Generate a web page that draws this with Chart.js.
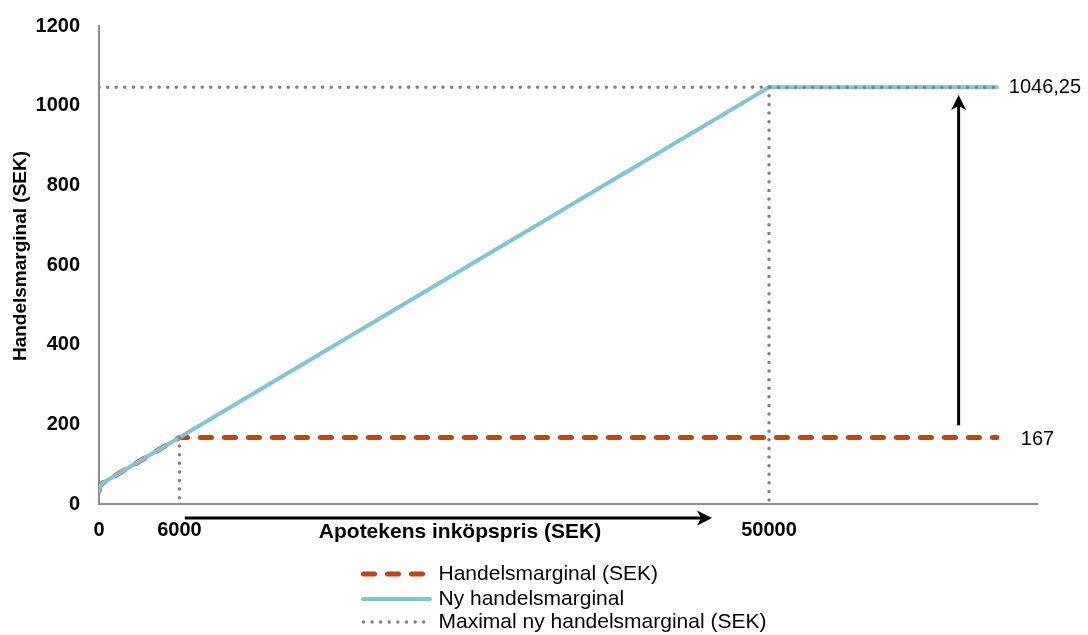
<!DOCTYPE html>
<html>
<head>
<meta charset="utf-8">
<script src="https://cdn.jsdelivr.net/npm/chart.js@4.4.1/dist/chart.umd.min.js"></script>
<style>
  html, body { margin: 0; padding: 0; background: #fff; }
  #chart { display: block; }
</style>
</head>
<body>
<canvas id="chart" width="1088" height="635"></canvas>
<script>
// Apotekens inköpspris (SEK) -> handelsmarginal (SEK)
var oldPrice = [0, 75, 300, 6000, 67000];
var oldMargin = [31.25, 46.25, 53, 167, 167];

var newPrice = [0, 75, 300, 6000, 50000, 67000];
var newMargin = [31.25, 46.25, 53, 167, 1046.25, 1046.25];

// dotted guide lines, null breaks the line
var maxPrice = [0, 67000, null, 50000, 50000, null, 6000, 6000];
var maxMargin = [1046.25, 1046.25, null, 1046.25, 0, null, 167, 0];

var xTicks = [0, 6000, 50000];
var seriesNames = ["Handelsmarginal (SEK)", "Ny handelsmarginal", "Maximal ny handelsmarginal (SEK)"];
var endLabels = ["1046,25", "167"];
var endValues = [1046.25, 167];

var FONT = "'Liberation Sans', Arial, sans-serif";
Chart.defaults.font.family = FONT;

function toPoints(xs, ys) {
  return xs.map(function(x, i) { return { x: x, y: ys[i] }; });
}

function drawArrow(ctx, x1, y1, x2, y2) {
  var ang = Math.atan2(y2 - y1, x2 - x1);
  var len = 15, half = 7.5, notch = 4;
  ctx.save();
  ctx.strokeStyle = '#000';
  ctx.fillStyle = '#000';
  ctx.lineWidth = 3;
  ctx.beginPath();
  ctx.moveTo(x1, y1);
  ctx.lineTo(x2 - Math.cos(ang) * (len - notch), y2 - Math.sin(ang) * (len - notch));
  ctx.stroke();
  ctx.translate(x2, y2);
  ctx.rotate(ang);
  ctx.beginPath();
  ctx.moveTo(0, 0);
  ctx.lineTo(-len, -half);
  ctx.lineTo(-len + notch, 0);
  ctx.lineTo(-len, half);
  ctx.closePath();
  ctx.fill();
  ctx.restore();
}

var overlay = {
  id: 'overlay',
  afterDraw: function(chart) {
    var ctx = chart.ctx;
    var xs = chart.scales.x, ys = chart.scales.y, area = chart.chartArea;
    var lineEnd = xs.getPixelForValue(67000);

    ctx.save();
    // y axis title
    ctx.fillStyle = '#000';
    ctx.font = 'bold 19px ' + FONT;
    ctx.textAlign = 'center';
    ctx.textBaseline = 'middle';
    ctx.translate(21, 256);
    ctx.rotate(-Math.PI / 2);
    ctx.fillText('Handelsmarginal (SEK)', 0, 0);
    ctx.restore();

    ctx.save();
    ctx.fillStyle = '#000';
    // x axis title, on the tick label row
    ctx.font = 'bold 21px ' + FONT;
    ctx.textAlign = 'center';
    ctx.textBaseline = 'middle';
    ctx.fillText('Apotekens inköpspris (SEK)', 460, area.bottom + 28);

    // values at the right end of the lines
    ctx.font = '20px ' + FONT;
    ctx.textAlign = 'left';
    ctx.fillText(endLabels[0], lineEnd + 12, ys.getPixelForValue(endValues[0]));
    ctx.fillText(endLabels[1], lineEnd + 24, ys.getPixelForValue(endValues[1]) + 2);
    ctx.restore();

    // arrows
    drawArrow(ctx, xs.getPixelForValue(6400), area.bottom + 14, xs.getPixelForValue(45750), area.bottom + 14);
    drawArrow(ctx, xs.getPixelForValue(64150), ys.getPixelForValue(198), xs.getPixelForValue(64150), ys.getPixelForValue(1027));

    // legend, one row per series, sample on the left
    var rows = [574, 599, 622];
    chart.data.datasets.forEach(function(ds, i) {
      var y = rows[i];
      ctx.save();
      ctx.strokeStyle = ds.borderColor;
      ctx.lineWidth = ds.borderWidth;
      ctx.lineCap = ds.borderCapStyle || 'butt';
      ctx.setLineDash(ds.borderDash || []);
      ctx.beginPath();
      if (i === 0) { ctx.moveTo(363.5, y); ctx.lineTo(424, y); }
      else if (i === 1) { ctx.moveTo(363, y); ctx.lineTo(430, y); }
      else { ctx.moveTo(363.5, y); ctx.lineTo(426, y); }
      ctx.stroke();
      ctx.setLineDash([]);
      ctx.fillStyle = '#000';
      ctx.font = '21px ' + FONT;
      ctx.textAlign = 'left';
      ctx.textBaseline = 'middle';
      ctx.fillText(ds.label, 438.5, y);
      ctx.restore();
    });
  }
};

new Chart(document.getElementById('chart'), {
  type: 'line',
  data: {
    datasets: [
      {
        label: seriesNames[0],
        data: toPoints(oldPrice, oldMargin),
        borderColor: '#C4430B',
        borderWidth: 5,
        borderDash: [11, 13],
        borderCapStyle: 'round',
        pointRadius: 0,
        tension: 0,
        order: 2
      },
      {
        label: seriesNames[1],
        data: toPoints(newPrice, newMargin),
        borderColor: '#7EC6D6',
        borderWidth: 4,
        borderCapStyle: 'round',
        pointRadius: 0,
        tension: 0,
        order: 1
      },
      {
        label: seriesNames[2],
        data: toPoints(maxPrice, maxMargin),
        borderColor: '#808080',
        borderWidth: 3.5,
        borderDash: [0, 8.6],
        borderCapStyle: 'round',
        pointRadius: 0,
        spanGaps: false,
        tension: 0,
        order: 0
      }
    ]
  },
  options: {
    responsive: false,
    animation: false,
    layout: { padding: { top: 26, right: 51, left: 0, bottom: 0 } },
    plugins: {
      legend: { display: false },
      tooltip: { enabled: false }
    },
    scales: {
      x: {
        type: 'linear',
        min: 0,
        max: 70000,
        grid: { display: false, drawTicks: false },
        border: { color: '#8c8c8c', width: 2 },
        afterBuildTicks: function(scale) {
          scale.ticks = xTicks.map(function(v) { return { value: v }; });
        },
        ticks: {
          font: { size: 20, weight: 'bold' },
          color: '#000',
          padding: 14,
          maxRotation: 0,
          autoSkip: false,
          callback: function(v) { return String(v); }
        },
        afterFit: function(scale) { scale.height = 131; }
      },
      y: {
        min: 0,
        max: 1200,
        grid: { display: false, drawTicks: false },
        border: { color: '#8c8c8c', width: 2 },
        ticks: {
          stepSize: 200,
          font: { size: 20, weight: 'bold' },
          color: '#000',
          padding: 19,
          callback: function(v) { return String(v); }
        },
        afterFit: function(scale) {
          scale.width = 99;
          // tick padding should not push the plot down
          scale.paddingTop = 12;
          scale.paddingBottom = 12;
        }
      }
    }
  },
  plugins: [overlay]
});
</script>
</body>
</html>
